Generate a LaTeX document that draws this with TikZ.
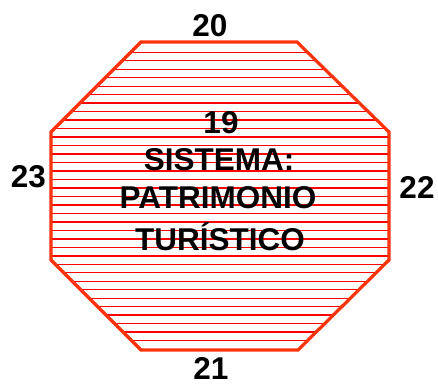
\documentclass[tikz,border=0pt]{standalone}
\usepackage{fontspec}
\setmainfont{Liberation Sans}
\definecolor{border}{RGB}{255,51,10}
\definecolor{hatch}{RGB}{255,0,0}
\tikzset{
  lbl/.style={anchor=base, inner sep=0pt, font=\fontsize{31.5}{36}\selectfont\bfseries, text=black},
  octa/.style={draw=border, line width=3.2pt, line join=miter},
  hatchline/.style={draw=hatch, line width=1.4pt}
}
\begin{document}
\begin{tikzpicture}[x=1pt,y=-1pt]
\useasboundingbox (0,0) rectangle (438,383);
\begin{scope}
  \clip (141,42) -- (297,42) -- (389,132) -- (389,260) -- (298,350) -- (141,350) -- (51,260) -- (51,132) -- cycle;
  \foreach \k in {0,...,34} {
    \draw[hatchline] (40,{52.3+8.48*\k}) -- (400,{52.3+8.48*\k});
  }
\end{scope}
\draw[octa] (141,42) -- (297,42) -- (389,132) -- (389,260) -- (298,350) -- (141,350) -- (51,260) -- (51,132) -- cycle;
\node[lbl] (n20) at (210,36) {20};
\node[lbl] (n21) at (211,379) {21};
\node[lbl] (n23) at (28.5,187) {23};
\node[lbl] (n22) at (417,198) {22};
\node[lbl] (n19) at (221,133) {19};
\node[lbl] (l1) at (219,170) {SISTEMA:};
\node[lbl] (l2) at (218,208) {PATRIMONIO};
\node[lbl] (l3) at (220,250) {TURÍSTICO};
\end{tikzpicture}
\end{document}
